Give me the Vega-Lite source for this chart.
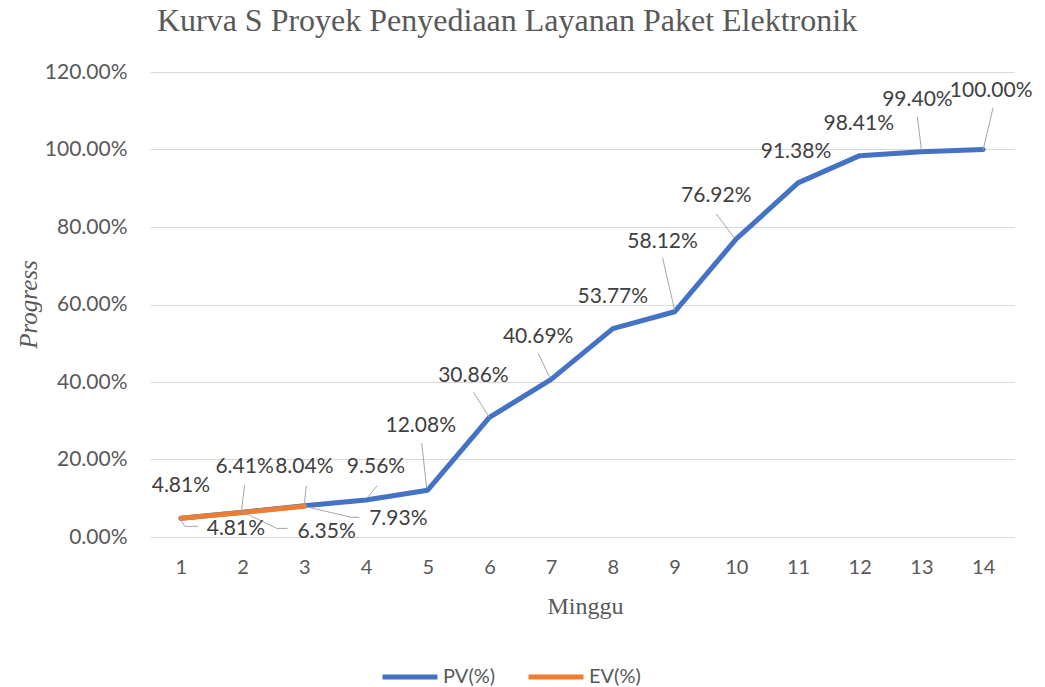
{
  "$schema": "https://vega.github.io/schema/vega-lite/v6.json",
  "width": 864,
  "height": 465,
  "autosize": {"type": "none"},
  "padding": {"left": 150, "top": 72, "right": 31, "bottom": 150},
  "background": "white",
  "config": {"view": {"stroke": null}},
  "title": {
    "text": "Kurva S Proyek Penyediaan Layanan Paket Elektronik",
    "font": "Liberation Serif",
    "fontSize": 32,
    "fontWeight": "normal",
    "color": "#595959",
    "anchor": "middle",
    "dx": -75,
    "offset": 23
  },
  "data": {
    "values": [
      {"week": 1, "series": "PV(%)", "value": 0.0481},
      {"week": 2, "series": "PV(%)", "value": 0.0641},
      {"week": 3, "series": "PV(%)", "value": 0.0804},
      {"week": 4, "series": "PV(%)", "value": 0.0956},
      {"week": 5, "series": "PV(%)", "value": 0.1208},
      {"week": 6, "series": "PV(%)", "value": 0.3086},
      {"week": 7, "series": "PV(%)", "value": 0.4069},
      {"week": 8, "series": "PV(%)", "value": 0.5377},
      {"week": 9, "series": "PV(%)", "value": 0.5812},
      {"week": 10, "series": "PV(%)", "value": 0.7692},
      {"week": 11, "series": "PV(%)", "value": 0.9138},
      {"week": 12, "series": "PV(%)", "value": 0.9841},
      {"week": 13, "series": "PV(%)", "value": 0.9940},
      {"week": 14, "series": "PV(%)", "value": 1.0},
      {"week": 1, "series": "EV(%)", "value": 0.0481},
      {"week": 2, "series": "EV(%)", "value": 0.0635},
      {"week": 3, "series": "EV(%)", "value": 0.0793}
    ]
  },
  "encoding": {
    "x": {
      "field": "week",
      "type": "quantitative",
      "scale": {"domain": [0.5, 14.5], "nice": false, "zero": false},
      "axis": {
        "values": [1, 2, 3, 4, 5, 6, 7, 8, 9, 10, 11, 12, 13, 14],
        "grid": false,
        "domain": false,
        "ticks": false,
        "tickSize": 0,
        "labelPadding": 20,
        "labelFont": "Lato",
        "labelFontSize": 20,
        "labelColor": "#595959",
        "labelFlush": false,
        "title": "Minggu",
        "titleFont": "Liberation Serif",
        "titleFontSize": 24,
        "titleFontWeight": "normal",
        "titleColor": "#595959",
        "titleX": 435,
        "titleY": 76,
        "titleBaseline": "alphabetic"
      }
    },
    "y": {
      "field": "value",
      "type": "quantitative",
      "scale": {"domain": [0, 1.2], "nice": false},
      "axis": {
        "values": [0, 0.2, 0.4, 0.6, 0.8, 1.0, 1.2],
        "format": ".2%",
        "grid": true,
        "gridColor": "#D9D9D9",
        "gridWidth": 1,
        "domain": false,
        "ticks": false,
        "tickSize": 0,
        "labelPadding": 23,
        "labelFont": "Lato",
        "labelFontSize": 21,
        "labelColor": "#595959",
        "title": "Progress",
        "titleFont": "Liberation Serif",
        "titleFontSize": 25,
        "titleFontStyle": "italic",
        "titleFontWeight": "normal",
        "titleColor": "#595959",
        "titleAngle": -90,
        "titleX": -122,
        "titleY": 232,
        "titleAlign": "center",
        "titleBaseline": "middle"
      }
    }
  },
  "layer": [
    {
      "transform": [{"filter": "datum.series === 'PV(%)'"}],
      "mark": {"type": "line", "strokeWidth": 5, "strokeCap": "round", "strokeJoin": "round"},
      "encoding": {
        "color": {
          "field": "series",
          "type": "nominal",
          "scale": {"domain": ["PV(%)", "EV(%)"], "range": ["#4472C4", "#ED7D31"]},
          "legend": {
            "orient": "none",
            "legendX": 230,
            "legendY": 575,
            "direction": "horizontal",
            "title": null,
            "symbolType": "stroke",
            "symbolSize": 3025,
            "symbolStrokeWidth": 5,
            "labelFont": "Lato",
            "labelFontSize": 20,
            "labelColor": "#595959",
            "labelOffset": 3,
            "columnPadding": 22
          }
        }
      }
    },
    {
      "transform": [{"filter": "datum.series === 'EV(%)'"}],
      "mark": {"type": "line", "strokeWidth": 5, "strokeCap": "round", "strokeJoin": "round"},
      "encoding": {
        "color": {"field": "series", "type": "nominal"}
      }
    },
    {
      "transform": [{"filter": "[0,1,1,1,1,1,1,0,1,1,0,0,1,1,1,1,1][(datum.series === 'PV(%)' ? 0 : 14) + datum.week - 1] === 1"}],
      "mark": {
        "type": "rule",
        "color": "#A6A6A6",
        "strokeWidth": 1,
        "xOffset": {"expr": "[0,-1,0,1,-1,0,-1,0,0,-2,0,0,0,0,-1,-1,0][(datum.series === 'PV(%)' ? 0 : 14) + datum.week - 1]"},
        "yOffset": {"expr": "[0,-2,-1,-2,-2,0,-1,0,-2,-1,0,0,-2,0,0,-1,0][(datum.series === 'PV(%)' ? 0 : 14) + datum.week - 1]"},
        "x2Offset": {"expr": "[0,2,2,11,-6,-16,-13,0,-12,-20,0,0,-4,10,4,34,47][(datum.series === 'PV(%)' ? 0 : 14) + datum.week - 1]"},
        "y2Offset": {"expr": "[0,-27,-20,-14,-47,-25,-26,0,-54,-25,0,0,-35,-42,8,16,11][(datum.series === 'PV(%)' ? 0 : 14) + datum.week - 1]"}
      },
      "encoding": {
        "x2": {"field": "week"},
        "y2": {"field": "value"}
      }
    },
    {
      "transform": [{"filter": "datum.series === 'EV(%)'"}],
      "mark": {
        "type": "rule",
        "color": "#A6A6A6",
        "strokeWidth": 1,
        "xOffset": {"expr": "[4,34,47][datum.week - 1]"},
        "yOffset": {"expr": "[8,16,11][datum.week - 1]"},
        "x2Offset": {"expr": "[17,45,55][datum.week - 1]"},
        "y2Offset": {"expr": "[8,16,11][datum.week - 1]"}
      },
      "encoding": {
        "x2": {"field": "week"},
        "y2": {"field": "value"}
      }
    },
    {
      "mark": {
        "type": "text",
        "font": "Lato",
        "fontSize": 21,
        "color": "#404040",
        "align": "center",
        "baseline": "middle",
        "dx": {"expr": "[0,2,0,10,-7,-16,-13,0,-12,-20,-2,-1,-4,8,55,84,94][(datum.series === 'PV(%)' ? 0 : 14) + datum.week - 1]"},
        "dy": {"expr": "[-32,-45,-39,-33,-64,-41,-42,-32,-70,-43,-31,-32,-52,-59,11,20,13][(datum.series === 'PV(%)' ? 0 : 14) + datum.week - 1]"}
      },
      "encoding": {
        "text": {"field": "value", "type": "quantitative", "format": ".2%"}
      }
    }
  ]
}
